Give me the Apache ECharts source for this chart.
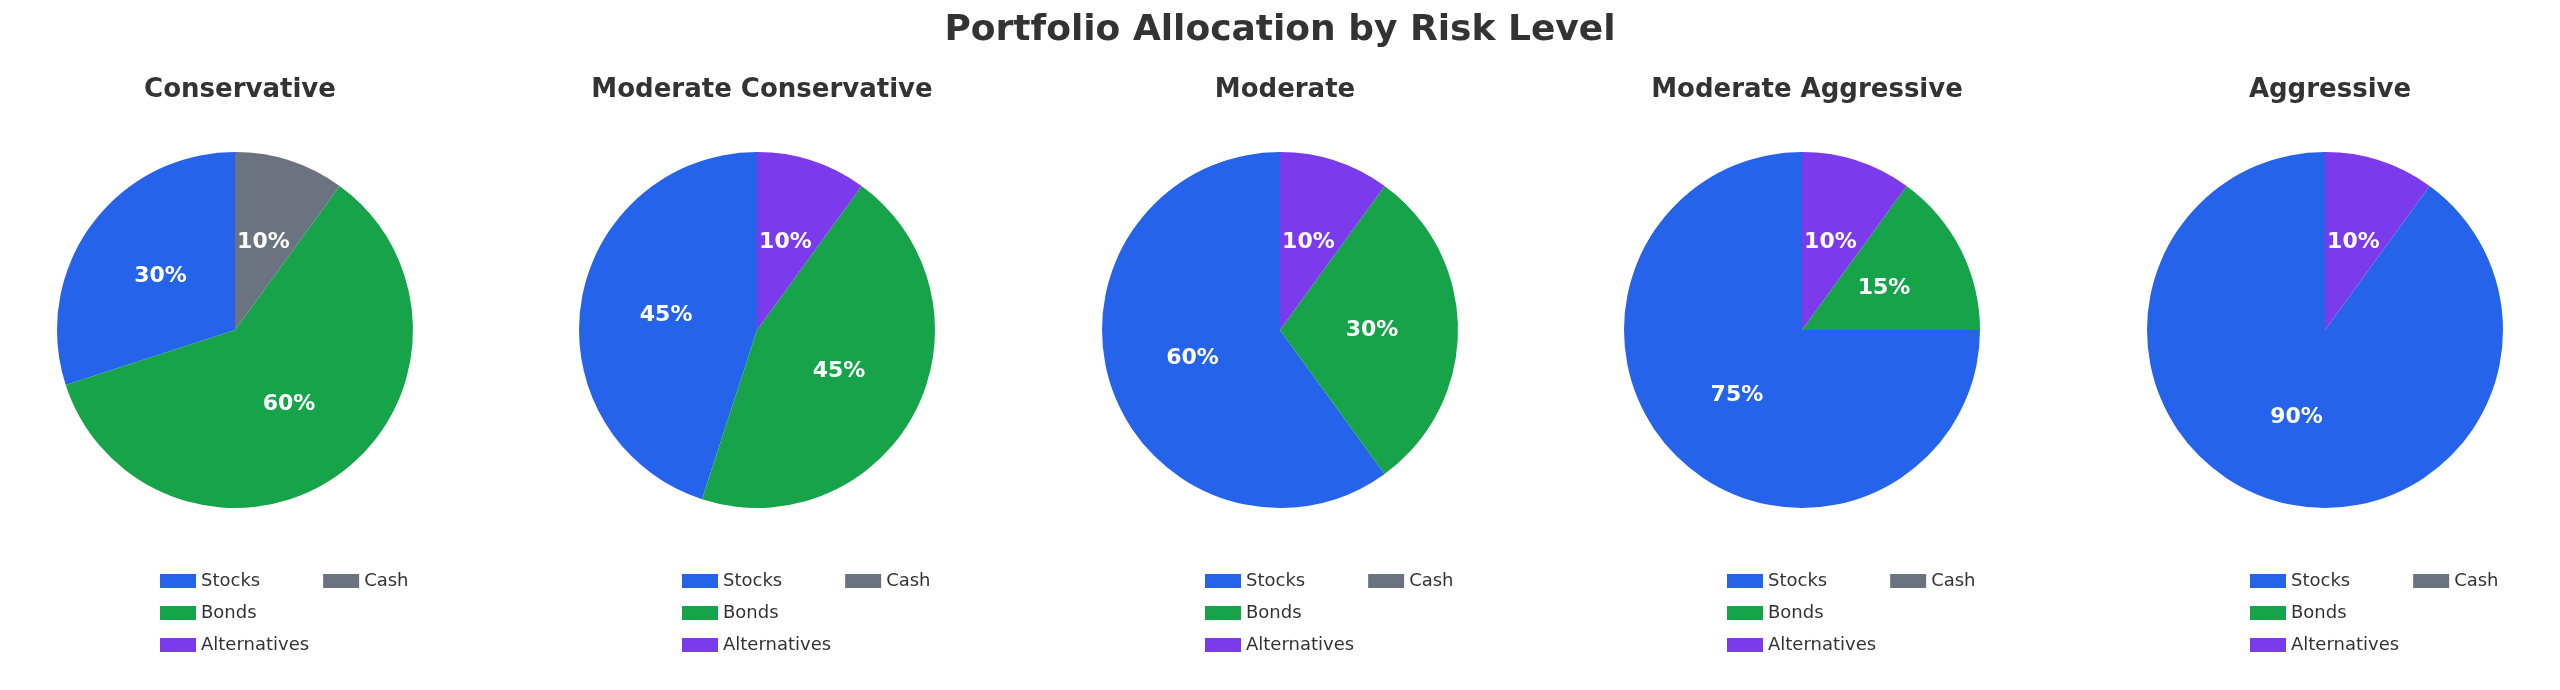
<!DOCTYPE html>
<html>
<head>
<meta charset="utf-8">
<script src="https://cdn.jsdelivr.net/npm/echarts@6/dist/echarts.min.js"></script>
<style>html,body{margin:0;padding:0;background:#fff}#main{width:2560px;height:690px}</style>
</head>
<body>
<div id="main"></div>
<script>
// 资产类别与各风险等级配置
const assets = ['Stocks', 'Bonds', 'Alternatives', 'Cash']
const colors = ['#2563eb', '#16a34a', '#7c3aed', '#6b7280']
const profiles = ['Conservative', 'Moderate Conservative', 'Moderate', 'Moderate Aggressive', 'Aggressive']
const conservative = [30, 60, 0, 10]
const moderateConservative = [45, 45, 10, 0]
const moderate = [60, 30, 10, 0]
const moderateAggressive = [75, 15, 10, 0]
const aggressive = [90, 0, 10, 0]
const allocations = [conservative, moderateConservative, moderate, moderateAggressive, aggressive]

const font = 'DejaVu Sans'
const centersX = [235, 757, 1280, 1802, 2325]

let chart = echarts.init(document.getElementById('main'))

let titles = [{
  text: 'Portfolio Allocation by Risk Level',
  left: 'center', top: 8,
  textStyle: { fontFamily: font, fontSize: 36, fontWeight: 'bold', color: '#333' }
}]
let legends = []
let series = []

profiles.forEach((name, i) => {
  titles.push({
    text: name,
    left: centersX[i], top: 72, textAlign: 'center',
    textStyle: { fontFamily: font, fontSize: 26, fontWeight: 'bold', color: '#333' }
  })
  legends.push({
    data: assets,
    orient: 'vertical',
    left: centersX[i] - 80, top: 567,
    itemWidth: 36, itemHeight: 14, itemGap: 14,
    icon: 'rect',
    textStyle: { fontFamily: font, fontSize: 18, color: '#333' }
  })
  series.push({
    type: 'pie',
    name: name,
    center: [centersX[i], 330],
    radius: 178,
    startAngle: 90,
    clockwise: false,
    avoidLabelOverlap: false,
    animation: false,
    label: {
      show: true, position: 'inside',
      fontFamily: font, fontSize: 22, fontWeight: 'bold', color: '#fff',
      formatter: p => p.value > 0 ? p.value + '%' : ''
    },
    labelLine: { show: false },
    emphasis: { disabled: true },
    data: assets.map((a, j) => ({ name: a, value: allocations[i][j] }))
  })
})

chart.setOption({
  color: colors,
  title: titles,
  legend: legends,
  series: series
})
</script>
</body>
</html>
